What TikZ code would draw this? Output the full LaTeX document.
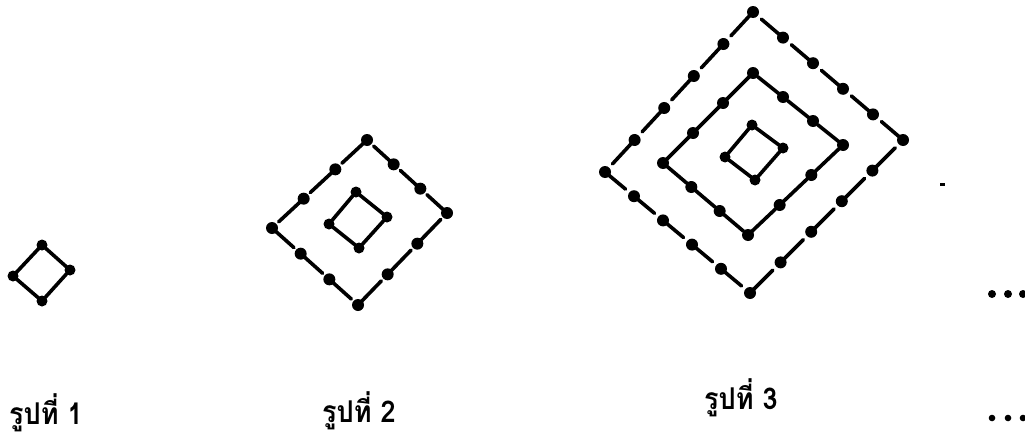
\documentclass[tikz,border=0pt]{standalone}
\usepackage{fontspec}
\newfontfamily\thaifont[Script=Thai, FakeStretch=0.9]{Loma}
\usetikzlibrary{calc}
\tikzset{
  ringline/.style={line width=3.6pt, line cap=round},
  lbl/.style={font=\thaifont\bfseries\fontsize{30}{32}\selectfont, inner sep=0pt},
}
\newcommand\ringdraw[4]{% #1 prefix, #2 segments per side, #3 gap, #4 dot radius
  \foreach \a/\b in {t/l,l/b,b/r,r/t}{
    \foreach \i in {1,...,#2}{
      \pgfmathsetmacro\fa{(\i-1)/#2}
      \pgfmathsetmacro\fb{\i/#2}
      \draw[ringline, shorten >=#3] ($(#1\a)!\fa!(#1\b)$) -- ($(#1\a)!\fb!(#1\b)$);
      \fill ($(#1\a)!\fa!(#1\b)$) circle[radius=#4];
    }
  }
}
\begin{document}
\begin{tikzpicture}[x=1pt,y=-1pt]
\useasboundingbox (0,0) rectangle (1025,439);
% figure 1
\coordinate (At) at (42,245); \coordinate (Al) at (13,276);
\coordinate (Ab) at (42,301); \coordinate (Ar) at (70,270);
\ringdraw{A}{1}{0pt}{5.5pt}
% figure 2
\coordinate (Bt) at (356,192); \coordinate (Bl) at (329,224);
\coordinate (Bb) at (359,248); \coordinate (Br) at (387,217);
\ringdraw{B}{1}{0pt}{5.5pt}
\coordinate (Ct) at (367,140); \coordinate (Cl) at (272,228);
\coordinate (Cb) at (358,305); \coordinate (Cr) at (447,213);
\ringdraw{C}{3}{9pt}{6pt}
% figure 3
\coordinate (Dt) at (752,125); \coordinate (Dl) at (725,157);
\coordinate (Db) at (755,180); \coordinate (Dr) at (783,148);
\ringdraw{D}{1}{0pt}{5.5pt}
\coordinate (Et) at (753,73); \coordinate (El) at (663,163);
\coordinate (Eb) at (748,235); \coordinate (Er) at (843,145);
\ringdraw{E}{3}{6pt}{6pt}
\coordinate (Ft) at (753,12); \coordinate (Fl) at (605,172);
\coordinate (Fb) at (750,293); \coordinate (Fr) at (903,140);
\ringdraw{F}{5}{11pt}{6pt}
% speck
\fill (940,182.5) rectangle (944.5,185.5);
% continuation dots
\foreach \x in {992,1008,1023}{
  \fill (\x,294) circle[radius=4pt];
  \fill (\x,418) circle[radius=3.3pt];
}
% labels
\node[lbl] (l1) at (46,413) {รูปที่ 1};
\node[lbl] (l2) at (359,411) {รูปที่ 2};
\node[lbl] (l3) at (741,398) {รูปที่ 3};
\end{tikzpicture}
\end{document}
